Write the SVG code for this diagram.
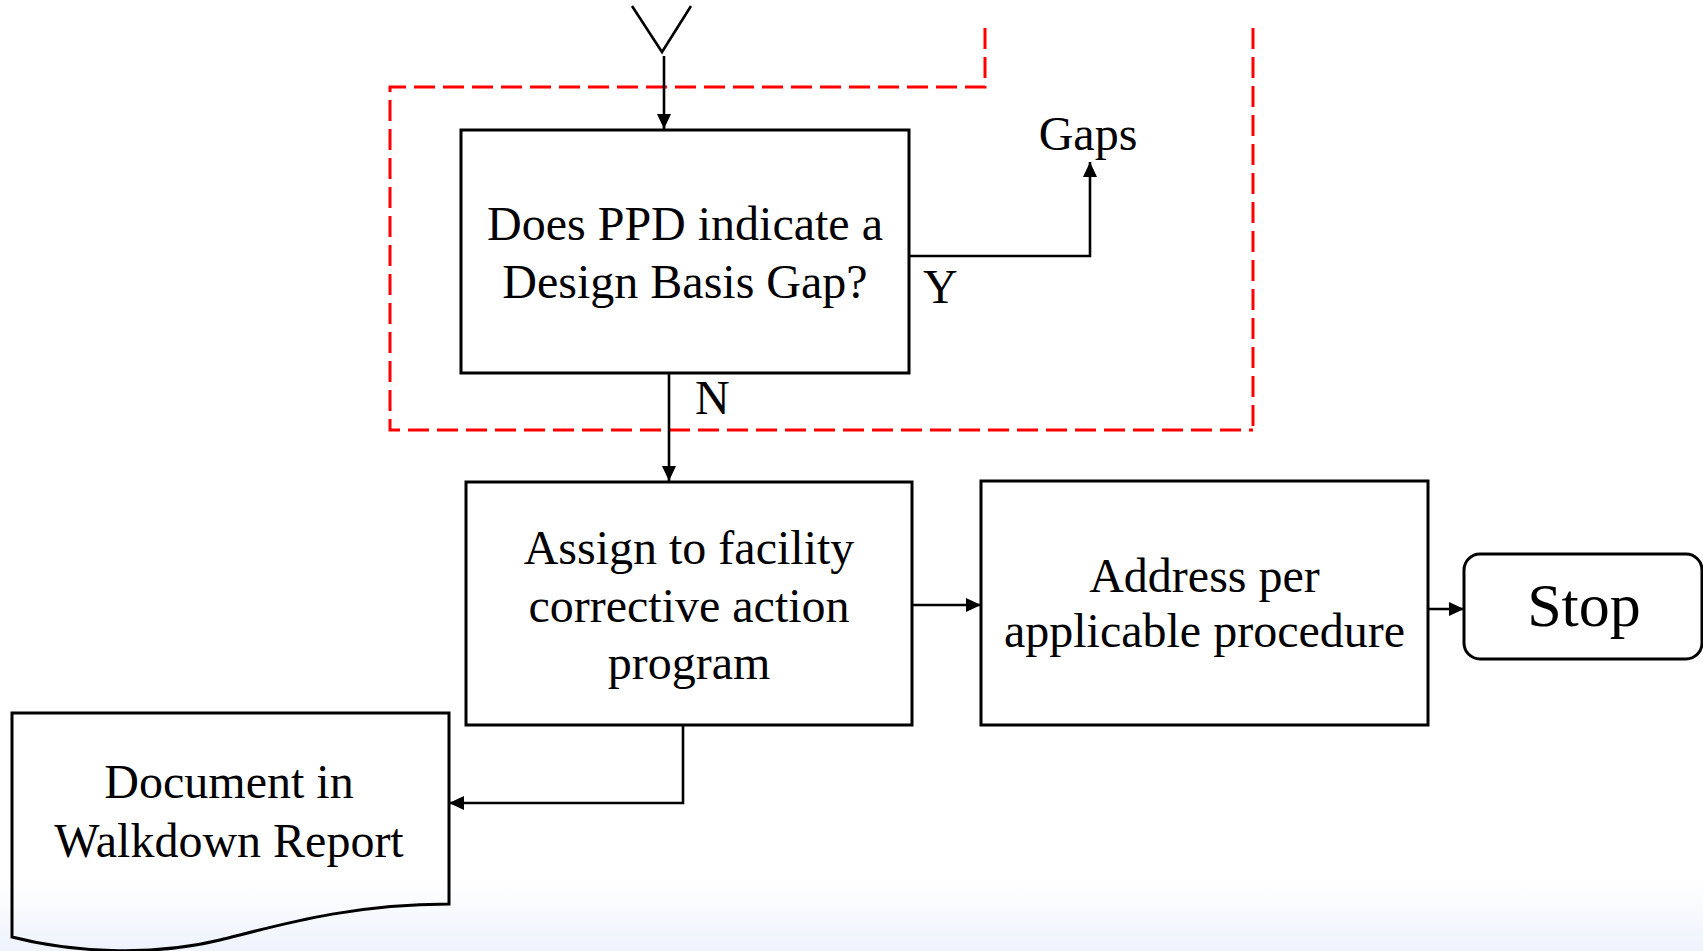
<svg xmlns="http://www.w3.org/2000/svg" width="1703" height="951" viewBox="0 0 1703 951">
  <defs>
    <linearGradient id="bg" x1="0" y1="0" x2="0" y2="1">
      <stop offset="0" stop-color="#ffffff"/>
      <stop offset="1" stop-color="#eef3fc"/>
    </linearGradient>
    <marker id="arr" markerUnits="userSpaceOnUse" markerWidth="16" markerHeight="16" viewBox="0 0 16 16" refX="15" refY="7" orient="auto">
      <path d="M0,0 L15,7 L0,14 Z" fill="#000"/>
    </marker>
    <style>
      .box { fill: none; stroke: #000; stroke-width: 3; }
      .ln { fill: none; stroke: #000; stroke-width: 2.6; }
      .t { font-family: "Liberation Serif", "Times New Roman", serif; font-size: 48px; fill: #000; }
      .c { text-anchor: middle; }
      .red { fill: none; stroke: #ff0000; stroke-width: 3; stroke-dasharray: 21 8; }
    </style>
  </defs>
  <rect x="0" y="0" width="1703" height="951" fill="#ffffff"/>
  <rect x="0" y="880" width="1703" height="71" fill="url(#bg)"/>

  <g id="boundary">
    <path class="red" d="M985,28 V87 H390 V430 H1253"/>
    <path class="red" d="M1253,28 V430"/>
  </g>

  <g id="connectors">
    <polyline class="ln" points="632,6 662,52 691,6"/>
    <line class="ln" x1="664" y1="56" x2="664" y2="129" marker-end="url(#arr)"/>
    <polyline class="ln" points="909,256 1090,256 1090,162" marker-end="url(#arr)"/>
    <line class="ln" x1="669" y1="373" x2="669" y2="481" marker-end="url(#arr)"/>
    <line class="ln" x1="912" y1="605" x2="981" y2="605" marker-end="url(#arr)"/>
    <line class="ln" x1="1428" y1="609" x2="1464" y2="609" marker-end="url(#arr)"/>
    <polyline class="ln" points="683,725 683,803 449,803" marker-end="url(#arr)"/>
  </g>

  <g id="decision">
    <rect class="box" x="461" y="130" width="448" height="243"/>
    <text class="t c" x="685" y="240">Does PPD indicate a</text>
    <text class="t c" x="685" y="298">Design Basis Gap?</text>
  </g>

  <g id="label-gaps">
    <text class="t c" x="1088" y="150">Gaps</text>
  </g>
  <g id="label-y">
    <text class="t" x="923" y="303">Y</text>
  </g>
  <g id="label-n">
    <text class="t" x="695" y="414">N</text>
  </g>

  <g id="assign">
    <rect class="box" x="466" y="482" width="446" height="243"/>
    <text class="t c" x="689" y="564">Assign to facility</text>
    <text class="t c" x="689" y="622">corrective action</text>
    <text class="t c" x="689" y="679">program</text>
  </g>

  <g id="address">
    <rect class="box" x="981" y="481" width="447" height="244"/>
    <text class="t c" x="1204.5" y="592">Address per</text>
    <text class="t c" x="1204.5" y="647">applicable procedure</text>
  </g>

  <g id="stop">
    <rect class="box" x="1464" y="554" width="238" height="105" rx="16" ry="16"/>
    <text class="t c" x="1584" y="626" style="font-size:62px">Stop</text>
  </g>

  <g id="document">
    <path class="box" d="M12,713 H449 V904 C350,904 280,925 220,940 C150,957 70,952 12,937 Z"/>
    <text class="t c" x="229" y="798">Document in</text>
    <text class="t c" x="229" y="857">Walkdown Report</text>
  </g>
</svg>
